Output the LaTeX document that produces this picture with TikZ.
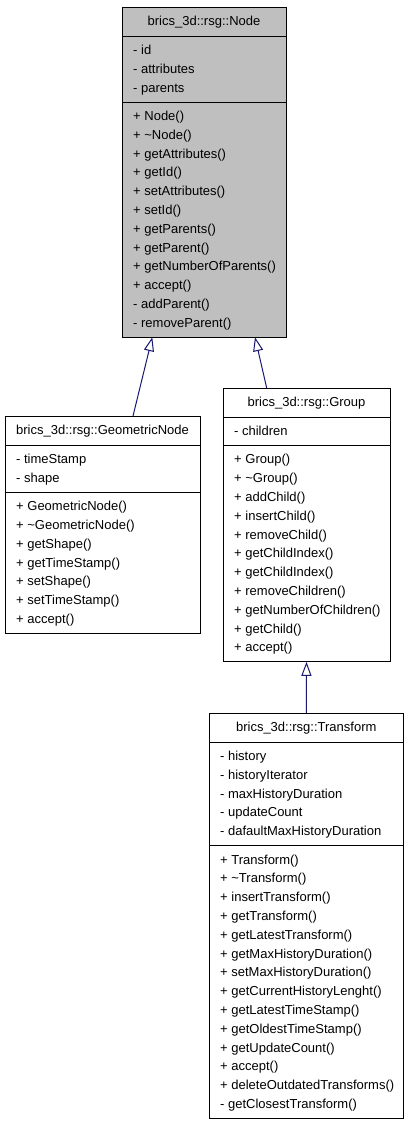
\documentclass[tikz,border=0pt]{standalone}
\usepackage{fontspec}
\setmainfont{Liberation Sans}
\usetikzlibrary{arrows.meta,calc}
\definecolor{edgeblue}{HTML}{191970}
\definecolor{nodegray}{HTML}{BFBFBF}
\tikzset{
  classbox/.style={draw=black, line width=1pt, inner sep=0pt, outer sep=0pt, anchor=north west},
  titletext/.style={anchor=base, inner sep=0pt, font=\fontsize{13}{15}\selectfont},
  membertext/.style={anchor=base west, inner sep=0pt, font=\fontsize{13}{15}\selectfont},
  sepline/.style={draw=black, line width=1pt},
  inherit/.style={draw=edgeblue, line width=1pt, -{Triangle[length=14pt, width=10pt, fill=white]}},
}
\newcommand\umlclass[8]{%
  \foreach \mem [count=\i] in {#7} {\xdef\nA{\i}}%
  \foreach \mem [count=\i] in {#8} {\xdef\nM{\i}}%
  \pgfmathsetmacro\hA{\nA*18.8+9.6}%
  \pgfmathsetmacro\hM{\nM*18.8+9.6}%
  \pgfmathsetmacro\hT{29+\hA+\hM}%
  \pgfmathsetmacro\yA{#3+29}%
  \pgfmathsetmacro\yM{#3+29+\hA}%
  \node[classbox, fill=#5, minimum width=#4pt, minimum height=\hT pt] (#1) at (#2,#3) {};
  \draw[sepline] (#2,\yA) -- ++(#4,0);
  \draw[sepline] (#2,\yM) -- ++(#4,0);
  \node[titletext] (#1-title) at (#2+#4/2,#3+18.5) {#6};
  \foreach \mem [count=\i] in {#7} {\node[membertext] (#1-a\i) at (#2+11,\yA+18.5+18.8*\i-18.8) {\mem};}
  \foreach \mem [count=\i] in {#8} {\node[membertext] (#1-m\i) at (#2+11,\yM+18.5+18.8*\i-18.8) {\mem};}
}
\begin{document}
\begin{tikzpicture}[x=1pt,y=-1pt]
\useasboundingbox (0,0) rectangle (409,1125);
\umlclass{node}{122}{7}{164}{nodegray}{brics\_3d::rsg::Node}
  {- id,- attributes,- parents}
  {+ Node(),+ \textasciitilde Node(),+ getAttributes(),+ getId(),+ setAttributes(),+ setId(),+ getParents(),+ getParent(),+ getNumberOfParents(),+ accept(),- addParent(),- removeParent()}
\umlclass{geo}{5}{416}{195}{white}{brics\_3d::rsg::GeometricNode}
  {- timeStamp,- shape}
  {+ GeometricNode(),+ \textasciitilde GeometricNode(),+ getShape(),+ getTimeStamp(),+ setShape(),+ setTimeStamp(),+ accept()}
\umlclass{group}{223}{388}{167}{white}{brics\_3d::rsg::Group}
  {- children}
  {+ Group(),+ \textasciitilde Group(),+ addChild(),+ insertChild(),+ removeChild(),+ getChildIndex(),+ getChildIndex(),+ removeChildren(),+ getNumberOfChildren(),+ getChild(),+ accept()}
\umlclass{trans}{209}{713}{194.5}{white}{brics\_3d::rsg::Transform}
  {- history,- historyIterator,- maxHistoryDuration,- updateCount,- dafaultMaxHistoryDuration}
  {+ Transform(),+ \textasciitilde Transform(),+ insertTransform(),+ getTransform(),+ getLatestTransform(),+ getMaxHistoryDuration(),+ setMaxHistoryDuration(),+ getCurrentHistoryLenght(),+ getLatestTimeStamp(),+ getOldestTimeStamp(),+ getUpdateCount(),+ accept(),+ deleteOutdatedTransforms(),- getClosestTransform()}
\draw[inherit] ($(geo.north west)+(128,0)$) -- ($(node.south west)+(30.3,0)$);
\draw[inherit] ($(group.north west)+(43.7,0)$) -- ($(node.south west)+(133,0)$);
\draw[inherit] (trans.north) -- (group.south);
\end{tikzpicture}
\end{document}
